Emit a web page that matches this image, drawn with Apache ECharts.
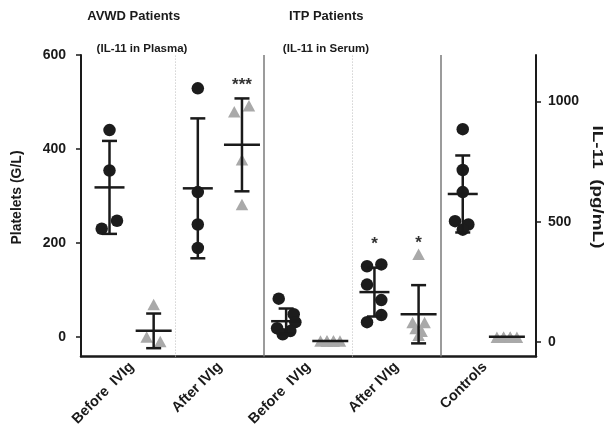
<!DOCTYPE html>
<html><head><meta charset="utf-8">
<script src="https://cdn.jsdelivr.net/npm/echarts@6/dist/echarts.min.js"></script>
<style>html,body{margin:0;padding:0;background:#fff}#c{width:611px;height:429px}</style>
</head><body><div id="c"></div>
<script>
// ---------- data ----------
const categories = ['Before  IVIg', 'After IVIg', 'Before  IVIg', 'After IVIg', 'Controls'];
const groupTitles = ['AVWD Patients', 'ITP Patients'];
const groupSubtitles = ['(IL-11 in Plasma)', '(IL-11 in Serum)'];
const leftTicks = [0, 200, 400, 600];
const rightTicks = [0, 500, 1000];
const leftAxisName = 'Platelets (G/L)';
const rightAxisName = 'IL-11  (pg/mL)';

// Platelets (G/L) per category
const plateletsAvwdBefore = [440, 354, 247, 230];
const plateletsAvwdAfter  = [529, 308, 239, 189];
const plateletsItpBefore  = [81, 48, 31, 18, 5, 12];
const plateletsItpAfter   = [150, 154, 111, 78, 46, 31];
const plateletsControls   = [442, 355, 308, 246, 239, 228];

// IL-11 (pg/mL) per category
const il11AvwdBefore = [157, 21, 3];
const il11AvwdAfter  = [958, 983, 758, 572];
const il11ItpBefore  = [5, 5, 5, 5, 5, 5];
const il11ItpAfter   = [365, 82, 82, 57, 45, 29];
const il11Controls   = [20, 20, 20, 20, 20, 20];

// mean and SD shown by the bars
const plateletMeans = [318, 316, 33, 95, 304];
const plateletSDs   = [99, 149, 27, 52, 82];
const il11Means     = [47, 820, 5, 116, 22];
const il11SDs       = [72, 193, 0, 121, 0];

// significance marks: [category index, measure, text]
const significance = [[1, 'il11', '***'], [3, 'platelets', '*'], [3, 'il11', '*']];

// ---------- layout (px) ----------
const plateletJitter = [[0,0,7.5,-7.8],[0,0,0,0],[-7.4,7.6,9.2,-9,-3.4,4.2],[-7.4,6.9,-7.4,6.9,6.9,-7.4],[0,0,0,-7.7,5.6,0]];
const il11Jitter = [[0,-7,6.6],[-7.7,7,0,0],[-9.8,-3.3,3.2,9.7,-3.3,3.2],[0,-6,6,-3,3,0],[-10,-3.3,3.3,10,-3.3,3.3]];
const starOffsets = [24, 24, 15];

const plateletSets = [plateletsAvwdBefore, plateletsAvwdAfter, plateletsItpBefore, plateletsItpAfter, plateletsControls];
const il11Sets = [il11AvwdBefore, il11AvwdAfter, il11ItpBefore, il11ItpAfter, il11Controls];

const FONT = "'Liberation Sans', Arial, sans-serif";
const INK = '#1a1a1a';

function pointData(sets, jit, colShift) {
  const out = [];
  sets.forEach((vals, ci) => vals.forEach((v, k) => out.push({ value: [ci * 2 + colShift, v], symbolOffset: [jit[ci][k], 0] })));
  return out;
}

function errorSeries(yAxisIndex, means, sds, colShift, halfW) {
  return {
    type: 'custom', yAxisIndex: yAxisIndex, z: 6, silent: true,
    data: means.map((m, i) => [i * 2 + colShift, m, sds[i]]),
    renderItem: function (params, api) {
      const x = api.value(0), m = api.value(1), s = api.value(2);
      const pm = api.coord([x, m]);
      const st = { stroke: INK, lineWidth: 2.5 };
      const ch = [{ type: 'line', shape: { x1: pm[0] - halfW, y1: pm[1], x2: pm[0] + halfW, y2: pm[1] }, style: st }];
      if (s > 0) {
        const pt = api.coord([x, m + s]), pb = api.coord([x, m - s]);
        ch.push({ type: 'line', shape: { x1: pm[0], y1: pt[1], x2: pm[0], y2: pb[1] }, style: st });
        ch.push({ type: 'line', shape: { x1: pm[0] - 7.5, y1: pt[1], x2: pm[0] + 7.5, y2: pt[1] }, style: st });
        ch.push({ type: 'line', shape: { x1: pm[0] - 7.5, y1: pb[1], x2: pm[0] + 7.5, y2: pb[1] }, style: st });
      }
      return { type: 'group', children: ch };
    }
  };
}

function starSeries(measure, yAxisIndex) {
  const items = [];
  significance.forEach((s, idx) => {
    if (s[1] !== measure) return;
    const sets = measure === 'il11' ? il11Sets : plateletSets;
    const col = s[0] * 2 + (measure === 'il11' ? 1 : 0);
    items.push([col, Math.max.apply(null, sets[s[0]]), idx]);
  });
  return {
    type: 'custom', yAxisIndex: yAxisIndex, z: 7, silent: true,
    data: items,
    renderItem: function (params, api) {
      const p = api.coord([api.value(0), api.value(1)]);
      const idx = api.value(2);
      return { type: 'text', x: p[0], y: p[1] - starOffsets[idx] + 4,
        style: { text: significance[idx][2], align: 'center', verticalAlign: 'middle',
          fill: '#333', font: 'bold 17px ' + FONT } };
    }
  };
}

const chart = echarts.init(document.getElementById('c'), null, { renderer: 'canvas' });
const tickLabelStyle = { fontSize: 14, fontWeight: 'bold', fontFamily: FONT, color: INK };
const plain = function (v) { return String(v); };

chart.setOption({
  animation: false,
  backgroundColor: '#fff',
  grid: { left: 81, right: 75, top: 55, bottom: 71.5, containLabel: false },
  xAxis: {
    type: 'value', min: -0.6455, max: 9.659,
    axisLine: { show: true, onZero: false, lineStyle: { color: INK, width: 2.5 } },
    axisTick: { show: false }, splitLine: { show: false },
    axisLabel: Object.assign({
      customValues: [0.5, 2.5, 4.5, 6.5, 8.5], rotate: 45, margin: 8,
      formatter: function (v) { return categories[Math.round((v - 0.5) / 2)]; }
    }, tickLabelStyle, { fontSize: 14.5 })
  },
  yAxis: [
    {
      type: 'value', position: 'left', min: -42.4, max: 600,
      axisLine: { show: true, onZero: false, lineStyle: { color: INK, width: 2 } },
      axisTick: { show: true, customValues: leftTicks, length: 5, lineStyle: { color: INK, width: 1.5 } },
      axisLabel: Object.assign({ customValues: leftTicks, margin: 15, formatter: plain }, tickLabelStyle),
      splitLine: { show: false }
    },
    {
      type: 'value', position: 'right', min: -60, max: 1193.5,
      axisLine: { show: true, onZero: false, lineStyle: { color: INK, width: 2 } },
      axisTick: { show: true, customValues: rightTicks, length: 5, lineStyle: { color: INK, width: 1.5 } },
      axisLabel: Object.assign({ customValues: rightTicks, margin: 12, formatter: plain }, tickLabelStyle),
      splitLine: { show: false }
    }
  ],
  series: [
    {
      type: 'scatter', yAxisIndex: 1, z: 3, silent: true,
      symbol: 'triangle', symbolSize: [12.5, 11.5],
      itemStyle: { color: '#a9a9a9', opacity: 1 },
      data: pointData(il11Sets, il11Jitter, 1),
      markLine: {
        silent: true, symbol: 'none', label: { show: false }, z: 1,
        data: [
          { xAxis: 1.5, lineStyle: { color: '#bdbdbd', width: 1, type: [1, 2] } },
          { xAxis: 3.5, lineStyle: { color: '#7a7a7a', width: 1.5, type: 'solid' } },
          { xAxis: 5.5, lineStyle: { color: '#bdbdbd', width: 1, type: [1, 2] } },
          { xAxis: 7.5, lineStyle: { color: '#7a7a7a', width: 1.5, type: 'solid' } }
        ]
      }
    },
    {
      type: 'scatter', yAxisIndex: 0, z: 4, silent: true,
      symbol: 'circle', symbolSize: 12.5,
      itemStyle: { color: '#1c1c1c', opacity: 1 },
      data: pointData(plateletSets, plateletJitter, 0)
    },
    errorSeries(0, plateletMeans, plateletSDs, 0, 15),
    errorSeries(1, il11Means, il11SDs, 1, 18),
    starSeries('platelets', 0),
    starSeries('il11', 1)
  ],
  graphic: [
    { type: 'text', x: 133.7, y: 16, style: { text: groupTitles[0], align: 'center', verticalAlign: 'middle', fill: INK, font: 'bold 13px ' + FONT } },
    { type: 'text', x: 326.3, y: 16.5, style: { text: groupTitles[1], align: 'center', verticalAlign: 'middle', fill: INK, font: 'bold 13px ' + FONT } },
    { type: 'text', x: 142, y: 49, style: { text: groupSubtitles[0], align: 'center', verticalAlign: 'middle', fill: INK, font: 'bold 11.5px ' + FONT } },
    { type: 'text', x: 326, y: 49, style: { text: groupSubtitles[1], align: 'center', verticalAlign: 'middle', fill: INK, font: 'bold 11.5px ' + FONT } },
    { type: 'text', x: 17, y: 197.5, rotation: Math.PI / 2, style: { text: leftAxisName, align: 'center', verticalAlign: 'middle', fill: INK, font: 'bold 14px ' + FONT } },
    { type: 'text', x: 597, y: 187, rotation: -Math.PI / 2, scaleX: 1.35, style: { text: rightAxisName, align: 'center', verticalAlign: 'middle', fill: INK, font: 'bold 14px ' + FONT } }
  ]
});
</script>
</body></html>
